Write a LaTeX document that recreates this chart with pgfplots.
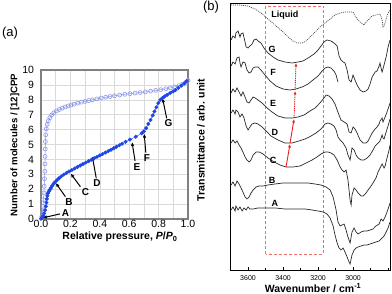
\documentclass[border=0pt]{standalone}
\usepackage{fontspec}
\setmainfont{Liberation Sans}
\usepackage{pgfplots}
\pgfplotsset{compat=1.18}
\usetikzlibrary{arrows.meta}
\definecolor{adsblue}{RGB}{30,70,230}
\definecolor{desblue}{RGB}{140,150,235}
\definecolor{gridgray}{RGB}{218,218,218}
\definecolor{framegray}{RGB}{128,128,128}
\definecolor{boxred}{RGB}{240,110,110}
\definecolor{arrred}{RGB}{235,30,30}
\definecolor{spec}{RGB}{40,40,40}
\begin{document}
\begin{tikzpicture}
\useasboundingbox (0pt,0pt) rectangle (392pt,294pt);
\node[inner sep=0pt,font=\fontsize{13}{13}\selectfont] at (10pt,261pt) {(a)};
\node[inner sep=0pt,font=\fontsize{13}{13}\selectfont] at (211pt,287pt) {(b)};
% ---------------- panel (a)
\begin{axis}[
  at={(41pt,75pt)}, anchor=south west, scale only axis, width=147pt, height=149pt,
  xmin=0, xmax=1, ymin=0, ymax=10, clip=false,
  xtick={0,0.2,0.4,0.6,0.8,1.0}, ytick={0,1,2,3,4,5,6,7,8,9,10},
  minor xtick={0.1,0.3,0.5,0.7,0.9},
  grid=both, major grid style={gridgray, line width=0.5pt}, minor grid style={gridgray, line width=0.5pt},
  major tick length=0pt, minor tick length=0pt,
  axis line style={framegray, line width=1.5pt},
  /pgf/number format/assume math mode=true,
  tick label style={font=\fontsize{10.5}{10.5}\selectfont, black},
  x tick label style={/pgf/number format/fixed, /pgf/number format/fixed zerofill, /pgf/number format/precision=1, yshift=2pt},
  y tick label style={xshift=-3.5pt},
  xlabel={Relative pressure, \textit{P}/\textit{P}\textsubscript{0}},
  ylabel={Number of molecules / [12]CPP},
  xlabel style={font=\bfseries\fontsize{10.5}{11}\selectfont, at={(axis description cs:0.537,-0.121)}, anchor=center, inner sep=0pt},
  ylabel style={font=\bfseries\fontsize{9.6}{10}\selectfont, at={(axis description cs:-0.177,0.497)}, anchor=center, inner sep=0pt},
]
\addplot[desblue, line width=0.5pt, mark=o, mark size=2pt, mark options={fill=white, line width=0.6pt}] coordinates {
(0.005,0.15) (0.010,0.45) (0.014,0.85) (0.017,1.30) (0.020,1.75) (0.022,2.20) (0.024,2.70) (0.026,3.20)
(0.027,3.70) (0.028,4.20) (0.029,4.70) (0.030,5.20) (0.032,5.65) (0.036,6.05) (0.042,6.35) (0.050,6.60)
(0.060,6.80) (0.072,6.98) (0.087,7.12) (0.105,7.25) (0.125,7.35) (0.145,7.44) (0.165,7.52) (0.185,7.59)
(0.205,7.65) (0.225,7.71) (0.250,7.78) (0.275,7.84) (0.300,7.89) (0.325,7.95) (0.350,8.00) (0.380,8.06)
(0.410,8.12) (0.440,8.17) (0.470,8.22) (0.500,8.27) (0.535,8.32) (0.570,8.37) (0.605,8.41) (0.640,8.45)
(0.675,8.49) (0.710,8.53) (0.745,8.58) (0.780,8.63) (0.815,8.68) (0.850,8.74) (0.880,8.80) (0.910,8.87)
(0.940,8.95) (0.965,9.05) (0.985,9.17) (1.000,9.30)};
\addplot[adsblue, line width=0.4pt, mark=*, mark size=1.8pt] coordinates {
(0.000,0.02) (0.008,0.08) (0.015,0.20) (0.022,0.38) (0.028,0.60) (0.033,0.85) (0.037,1.10) (0.040,1.35)
(0.043,1.55) (0.047,1.72) (0.053,1.85) (0.060,1.97) (0.068,2.10) (0.077,2.24) (0.087,2.38) (0.098,2.50)
(0.110,2.62) (0.123,2.74) (0.138,2.86) (0.155,2.98) (0.173,3.09) (0.191,3.19) (0.210,3.29) (0.229,3.39)
(0.248,3.49) (0.267,3.59) (0.286,3.69) (0.305,3.79) (0.324,3.88) (0.343,3.98) (0.362,4.08) (0.381,4.17)
(0.400,4.27) (0.419,4.36) (0.438,4.46) (0.457,4.55) (0.476,4.65) (0.495,4.75) (0.514,4.85) (0.533,4.95)
(0.552,5.05) (0.575,5.18) (0.605,5.33) (0.645,5.52) (0.685,5.75) (0.700,5.88) (0.715,6.10) (0.730,6.38)
(0.745,6.65) (0.760,6.95) (0.772,7.22) (0.785,7.50) (0.798,7.78) (0.812,8.00) (0.826,8.12) (0.840,8.22)
(0.858,8.33) (0.878,8.45) (0.898,8.56) (0.915,8.66) (0.935,8.80) (0.955,8.95) (0.975,9.10) (0.990,9.25)};
\begin{scope}[black, line width=1pt, -{Latex[length=4pt,width=3.5pt]}]
\draw (axis cs:0.13,0.34) -- (axis cs:0.012,0.08);
\draw (axis cs:0.166,1.50) -- (axis cs:0.100,2.42);
\draw (axis cs:0.268,2.17) -- (axis cs:0.202,3.05);
\draw (axis cs:0.376,2.73) -- (axis cs:0.349,4.20);
\draw (axis cs:0.640,3.89) -- (axis cs:0.619,5.17);
\draw (axis cs:0.713,4.45) -- (axis cs:0.702,5.73);
\draw (axis cs:0.855,6.76) -- (axis cs:0.827,8.10);
\end{scope}
\begin{scope}[every node/.style={font=\bfseries\fontsize{10}{10}\selectfont, inner sep=0pt}]
\node at (axis cs:0.166,0.40) {A};
\node at (axis cs:0.190,1.16) {B};
\node at (axis cs:0.302,1.83) {C};
\node at (axis cs:0.381,2.39) {D};
\node at (axis cs:0.652,3.51) {E};
\node at (axis cs:0.720,4.07) {F};
\node at (axis cs:0.867,6.42) {G};
\end{scope}
\end{axis}
% ---------------- panel (b)
\begin{axis}[
  at={(230pt,24pt)}, anchor=south west, scale only axis, width=160pt, height=267pt,
  xmin=2789, xmax=3703, x dir=reverse, ymin=0, ymax=267, clip=false,
  xtick={3000,3200,3400,3600}, minor xtick={2800,2900,3100,3300,3500},
  ytick=\empty, xtick pos=left, tick align=inside,
  major tick length=3pt, minor tick length=2pt,
  axis line style={black, line width=0.6pt},
  every tick/.style={black, line width=0.5pt},
  /pgf/number format/assume math mode=true,
  /pgf/number format/1000 sep={},
  x tick label style={font=\fontsize{7}{7}\selectfont, yshift=-2.5pt},
  xlabel={Wavenumber / cm\textsuperscript{-1}},
  ylabel={Transmittance / arb. unit},
  xlabel style={font=\bfseries\fontsize{10.5}{11}\selectfont, at={(axis description cs:0.519,-0.067)}, anchor=center, inner sep=0pt},
  ylabel style={font=\bfseries\fontsize{10.5}{11}\selectfont, at={(axis description cs:-0.181,0.487)}, anchor=center, inner sep=0pt},
]
\draw[boxred, line width=0.8pt, dash pattern=on 3pt off 2pt] (axis cs:3500,16) rectangle (axis cs:3170,264);
% Liquid
\addplot[spec!85, line width=0.7pt, dash pattern=on 1pt off 1pt] coordinates {
(3697,265) (3646,265) (3600,264) (3560,261) (3526,257) (3486,251) (3446,245) (3406,239) (3371,233)
(3343,229) (3320,227) (3291,227) (3268,229) (3246,233) (3217,238) (3189,243) (3160,247) (3131,251)
(3103,255) (3074,257) (3046,258) (3017,258) (3000,258) (2989,254) (2971,250) (2960,248) (2937,245)
(2926,248) (2914,250) (2891,254) (2869,255) (2846,256) (2834,250) (2829,243) (2823,244) (2811,251)
(2800,257) (2789,260)};
% G
\addplot[spec, line width=0.7pt] coordinates {
(3697,230) (3686,234) (3674,232) (3669,237) (3657,239) (3646,233) (3640,236) (3629,237) (3617,228)
(3611,223) (3600,222) (3589,224) (3577,226) (3566,230) (3554,231) (3543,229) (3526,227) (3509,222)
(3486,217) (3457,213) (3429,210) (3389,208) (3349,207) (3314,208) (3286,209) (3257,212) (3223,216)
(3200,220) (3183,224) (3166,228) (3149,230) (3126,229) (3109,227) (3091,224) (3080,214) (3069,210)
(3057,208) (3046,207) (3034,200) (3023,190) (3011,188) (3000,195) (2989,190) (2977,185) (2960,180)
(2943,178) (2926,179) (2914,181) (2903,186) (2891,193) (2874,198) (2863,199) (2851,204) (2846,207)
(2840,202) (2834,198) (2823,205) (2811,213) (2800,223) (2789,230)};
% F
\addplot[spec, line width=0.7pt] coordinates {
(3697,204) (3686,208) (3674,206) (3663,212) (3651,213) (3646,207) (3640,203) (3629,208) (3617,207)
(3606,200) (3594,197) (3583,198) (3571,202) (3560,203) (3543,203) (3526,200) (3503,195) (3474,189)
(3440,184) (3400,181) (3360,180) (3326,181) (3291,183) (3257,186) (3229,190) (3200,194) (3177,199)
(3160,202) (3143,203) (3126,202) (3109,199) (3097,195) (3086,188)};
% E
\addplot[spec, line width=0.7pt] coordinates {
(3697,177) (3686,181) (3674,178) (3663,182) (3651,178) (3640,174) (3629,178) (3617,173) (3606,168)
(3594,167) (3583,170) (3571,173) (3560,172) (3543,170) (3520,167) (3491,162) (3463,158) (3429,154)
(3389,152) (3349,152) (3314,153) (3280,155) (3246,159) (3217,162) (3189,167) (3166,172) (3154,175)
(3137,174) (3120,171) (3103,166) (3091,160) (3080,155) (3069,150) (3051,148) (3034,146) (3023,138)
(3011,137) (3000,143) (2989,141) (2977,137) (2960,130) (2943,127) (2926,127) (2914,129) (2903,133)
(2891,137) (2874,141) (2863,143) (2851,146) (2846,149) (2834,152) (2829,148) (2817,153) (2806,158)
(2794,164) (2789,167)};
% D
\addplot[spec, line width=0.7pt] coordinates {
(3697,157) (3686,160) (3674,156) (3669,160) (3657,158) (3646,153) (3634,156) (3623,152) (3611,144)
(3600,140) (3589,143) (3577,146) (3560,147) (3543,146) (3520,143) (3497,139) (3469,134) (3429,130)
(3389,127) (3349,127) (3309,129) (3274,131) (3240,134) (3211,137) (3183,141) (3160,146) (3143,147)
(3126,146) (3109,144) (3097,140) (3086,133) (3074,130) (3057,127) (3040,122) (3029,115) (3017,110)
(3006,122) (2994,120) (2983,115) (2971,112) (2954,110) (2937,110) (2920,112) (2903,115) (2886,120)
(2874,124) (2857,127) (2846,129) (2834,135) (2829,132) (2823,131) (2811,138) (2800,144) (2789,151)};
% C
\addplot[spec, line width=0.7pt] coordinates {
(3697,127) (3686,130) (3674,127) (3663,129) (3651,125) (3640,122) (3629,118) (3617,113) (3606,110)
(3594,108) (3583,110) (3571,115) (3554,118) (3537,118) (3514,116) (3486,112) (3451,108) (3417,105)
(3383,103) (3343,103) (3303,104) (3268,107) (3234,110) (3206,113) (3183,116) (3160,118) (3143,118)
(3126,117) (3109,115) (3091,110) (3074,103) (3063,100) (3051,98) (3040,100) (3029,90) (3017,70)
(3011,65) (3006,75) (2994,82) (2983,80) (2971,77) (2954,74) (2943,74) (2926,77) (2914,80) (2897,84)
(2886,87) (2869,92) (2857,98) (2846,102) (2834,106) (2823,102) (2817,104) (2806,112) (2794,120) (2789,125)};
% B
\addplot[spec, line width=0.7pt] coordinates {
(3697,85) (3686,88) (3674,84) (3663,89) (3651,86) (3640,82) (3629,78) (3617,73) (3606,71) (3594,73)
(3583,77) (3571,80) (3554,83) (3537,84) (3514,84) (3486,85) (3446,86) (3400,87) (3354,87) (3303,87)
(3257,87) (3217,86) (3183,85) (3154,83) (3131,80) (3114,73) (3097,60) (3086,48) (3074,44) (3063,45)
(3051,46) (3040,40) (3029,33) (3017,27) (3006,38) (2994,42) (2983,38) (2971,36) (2954,38) (2937,39)
(2920,39) (2903,40) (2886,41) (2869,44) (2851,46) (2840,51) (2829,49) (2817,53) (2806,58) (2794,64) (2789,67)};
% A
\addplot[spec, line width=0.7pt] coordinates {
(3697,60) (3686,63) (3674,59) (3669,64) (3657,60) (3646,63) (3634,59) (3623,62) (3611,60) (3600,63)
(3589,61) (3571,61) (3543,62) (3503,62) (3446,62) (3389,61) (3331,61) (3274,61) (3234,60) (3200,59)
(3171,58) (3149,56) (3131,52) (3114,44) (3103,35) (3091,27) (3080,22) (3069,20) (3057,22) (3046,18)
(3034,13) (3023,8) (3017,6) (3006,15) (2994,20) (2983,22) (2971,23) (2954,24) (2937,25) (2920,25)
(2903,26) (2886,27) (2869,28) (2851,29) (2834,32) (2823,34) (2811,38) (2800,42) (2789,48)};
% red arrows
\draw[arrred, line width=0.9pt, -{Latex[length=3.5pt,width=3pt]}] (axis cs:3383,103) -- (axis cs:3360,126);
\draw[arrred, line width=0.9pt, -{Latex[length=3.5pt,width=3pt]}] (axis cs:3360,127) -- (axis cs:3337,151);
\draw[arrred, line width=0.9pt, dash pattern=on 1pt off 0.8pt, -{Latex[length=3.5pt,width=3pt]}] (axis cs:3337,152) -- (axis cs:3331,179);
\draw[arrred, line width=0.9pt, dash pattern=on 1pt off 0.8pt, -{Latex[length=3.5pt,width=3pt]}] (axis cs:3331,180) -- (axis cs:3326,207);
\begin{scope}[every node/.style={font=\bfseries\fontsize{9}{9}\selectfont, inner sep=0pt}]
\node at (axis cs:3389,255) {Liquid};
\node at (axis cs:3463,221) {G};
\node at (axis cs:3457,198) {F};
\node at (axis cs:3457,167) {E};
\node at (axis cs:3446,138) {D};
\node at (axis cs:3457,110) {C};
\node at (axis cs:3463,90) {B};
\node at (axis cs:3446,67) {A};
\end{scope}
\end{axis}
\end{tikzpicture}
\end{document}
